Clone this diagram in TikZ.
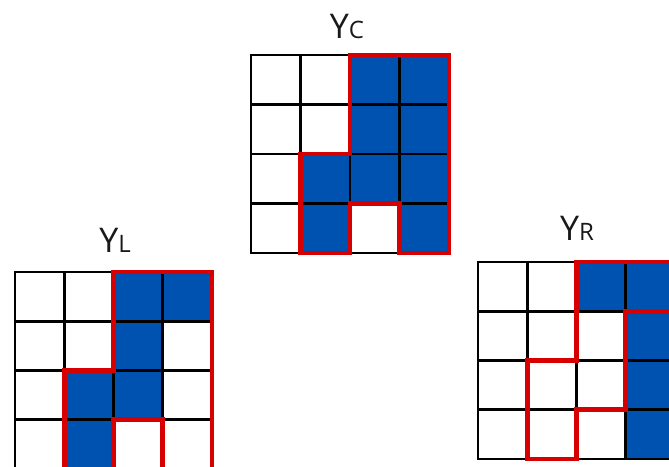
\documentclass[tikz,border=0pt]{standalone}
\usepackage{fontspec}
\setmainfont{Open Sans}
\definecolor{cellblue}{RGB}{0,82,176}
\definecolor{edgered}{RGB}{214,0,0}
\newcommand{\biglab}[1]{{\fontsize{34}{34}\selectfont #1}}
\newcommand{\smalllab}[1]{{\fontsize{24}{24}\selectfont #1}}
\begin{document}
\begin{tikzpicture}[x=1pt,y=-1pt,
  gridline/.style={black,line width=2.6pt,line cap=rect},
  outline/.style={edgered,line width=4.6pt,line join=miter},
  bluecell/.style={fill=cellblue,draw=none},
  label/.style={anchor=base,inner sep=0pt,text=black!90}]
\useasboundingbox (0,0) rectangle (669,466);
\clip (0,0) rectangle (669,466);
% ---------- Y_C ----------
\begin{scope}[shift={(251,55)}]
\begin{scope}[x=49.5pt,y=-49.5pt]
  \foreach \c/\r in {2/0,3/0,2/1,3/1,1/2,2/2,3/2,1/3,3/3}
    \fill[bluecell] (\c,\r) rectangle ++(1,1);
  \foreach \i in {0,...,4} {
    \draw[gridline] (\i,0) -- (\i,4);
    \draw[gridline] (0,\i) -- (4,\i);
  }
  \draw[outline] (2,0) -- (4,0) -- (4,4) -- (3,4) -- (3,3) -- (2,3) -- (2,4) -- (1,4) -- (1,2) -- (2,2) -- cycle;
\end{scope}
\end{scope}
\node[label] (lc) at (347,38) {\biglab{Y}\smalllab{C}};
% ---------- Y_L ----------
\begin{scope}[shift={(15,272)}]
\begin{scope}[x=49.25pt,y=-49.25pt]
  \foreach \c/\r in {2/0,3/0,2/1,1/2,2/2,1/3}
    \fill[bluecell] (\c,\r) rectangle ++(1,1);
  \foreach \i in {0,...,4} {
    \draw[gridline] (\i,0) -- (\i,4);
    \draw[gridline] (0,\i) -- (4,\i);
  }
  \draw[outline] (2,0) -- (4,0) -- (4,4) -- (3,4) -- (3,3) -- (2,3) -- (2,4) -- (1,4) -- (1,2) -- (2,2) -- cycle;
\end{scope}
\end{scope}
\node[label] (ll) at (115,252) {\biglab{Y}\smalllab{L}};
% ---------- Y_R ----------
\begin{scope}[shift={(478,262)}]
\begin{scope}[x=49.25pt,y=-49.25pt]
  \foreach \c/\r in {2/0,3/0,3/1,3/2,3/3}
    \fill[bluecell] (\c,\r) rectangle ++(1,1);
  \foreach \i in {0,...,4} {
    \draw[gridline] (\i,0) -- (\i,4);
    \draw[gridline] (0,\i) -- (4,\i);
  }
  \draw[outline] (2,0) -- (4,0) -- (4,1) -- (3,1) -- (3,3) -- (2,3) -- (2,4) -- (1,4) -- (1,2) -- (2,2) -- cycle;
\end{scope}
\end{scope}
\node[label] (lr) at (577,240) {\biglab{Y}\smalllab{R}};
\end{tikzpicture}
\end{document}
